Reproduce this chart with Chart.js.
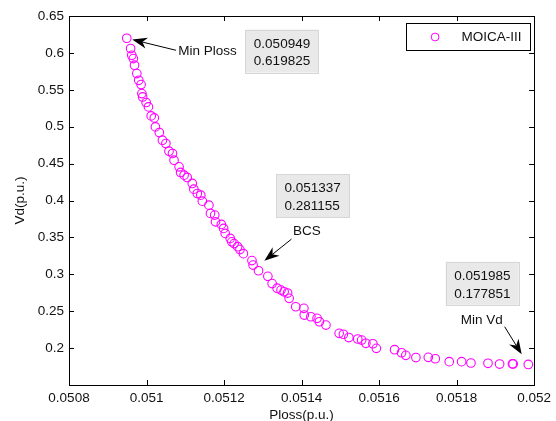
<!DOCTYPE html>
<html>
<head>
<meta charset="utf-8">
<script src="https://cdn.jsdelivr.net/npm/chart.js@4.4.0/dist/chart.umd.min.js"></script>
<style>
  html, body { margin: 0; padding: 0; background: #ffffff; }
  #wrap { width: 556px; height: 421px; position: relative; }
</style>
</head>
<body>
<div id="wrap"><canvas id="c" width="556" height="421"></canvas></div>
<script>
// Pareto front: power loss vs. voltage deviation
const seriesName = 'MOICA-III';

const plossValues = [
  0.050949, 0.050959, 0.050962, 0.050966, 0.050969, 0.050975, 0.050980, 0.050986, 0.050988, 0.050990,
  0.050999, 0.051005, 0.051012, 0.051020, 0.051023, 0.051033, 0.051041, 0.051050, 0.051058, 0.051067,
  0.051071, 0.051084, 0.051088, 0.051097, 0.051105, 0.051118, 0.051122, 0.051131, 0.051140, 0.051144,
  0.051161, 0.051165, 0.051176, 0.051178, 0.051193, 0.051199, 0.051203, 0.051216, 0.051220, 0.051226,
  0.051235, 0.051241, 0.051250, 0.051272, 0.051275, 0.051289, 0.051313, 0.051324, 0.051337, 0.051347,
  0.051355, 0.051364, 0.051368, 0.051385, 0.051406, 0.051407, 0.051424, 0.051440, 0.051446, 0.051463,
  0.051497, 0.051508, 0.051522, 0.051545, 0.051555, 0.051566, 0.051584, 0.051593, 0.051640, 0.051658,
  0.051669, 0.051695, 0.051727, 0.051745, 0.051781, 0.051813, 0.051837, 0.051881, 0.051911, 0.051944,
  0.051946, 0.051985
];

const vdValues = [
  0.619825, 0.6059, 0.5968, 0.5923, 0.5833, 0.5720, 0.5629, 0.5571, 0.5449, 0.5403,
  0.5328, 0.5268, 0.5146, 0.5119, 0.4997, 0.4921, 0.4817, 0.4772, 0.4668, 0.4637,
  0.4546, 0.4456, 0.4380, 0.4343, 0.4312, 0.4231, 0.4154, 0.4095, 0.4072, 0.3991,
  0.3937, 0.3825, 0.3802, 0.3711, 0.3676, 0.3622, 0.3554, 0.3486, 0.3440, 0.3416,
  0.3375, 0.3335, 0.3280, 0.3186, 0.3125, 0.3048, 0.2972, 0.2874, 0.281155, 0.2786,
  0.2763, 0.2746, 0.2674, 0.2560, 0.2539, 0.2448, 0.2425, 0.2403, 0.2357, 0.2312,
  0.2200, 0.2188, 0.2143, 0.2123, 0.2109, 0.2065, 0.2059, 0.1997, 0.1978, 0.1937,
  0.1902, 0.1872, 0.1875, 0.1856, 0.1816, 0.1816, 0.1798, 0.1794, 0.1784, 0.1787,
  0.1785, 0.177851
];

const xTickValues = [0.0508, 0.0510, 0.0512, 0.0514, 0.0516, 0.0518, 0.0520];
const xTickLabels = ['0.0508', '0.051', '0.0512', '0.0514', '0.0516', '0.0518', '0.052'];
const yTickValues = [0.20, 0.25, 0.30, 0.35, 0.40, 0.45, 0.50, 0.55, 0.60, 0.65];
const yTickLabels = ['0.2', '0.25', '0.3', '0.35', '0.4', '0.45', '0.5', '0.55', '0.6', '0.65'];

const xAxisTitle = 'Ploss(p.u.)';
const yAxisTitle = 'Vd(p.u.)';

// Highlighted solutions (indices into the series) with their data-tip boxes
const tipBoxes = [
  { point: 0,  left: 0.051255, top: 0.63159 },
  { point: 48, left: 0.051334, top: 0.43568 },
  { point: 81, left: 0.051772, top: 0.31694 }
];

// Labelled arrows
const callouts = [
  { text: 'Min Ploss', tx: 0.051082, ty: 0.60261, from: [0.051076, 0.60356], to: [0.050963, 0.61805] },
  { text: 'BCS',       tx: 0.051378, ty: 0.35851, from: [0.051374, 0.34768], to: [0.051304, 0.31830] },
  { text: 'Min Vd',    tx: 0.051811, ty: 0.23801, from: [0.051924, 0.22894], to: [0.051968, 0.19157] }
];

const FONT = '"Liberation Sans", Arial, Helvetica, sans-serif';
const FONT_SIZE = 13.5;
const TEXT = '#111111';
const MARKER = '#ff00ff';

function arrow(ctx, x0, y0, x1, y1) {
  const ang = Math.atan2(y1 - y0, x1 - x0);
  const len = 15, half = 5.5, notch = 4.5;
  ctx.save();
  ctx.strokeStyle = '#000';
  ctx.lineWidth = 1;
  ctx.beginPath();
  ctx.moveTo(x0, y0);
  ctx.lineTo(x1 - Math.cos(ang) * (len - notch), y1 - Math.sin(ang) * (len - notch));
  ctx.stroke();
  ctx.translate(x1, y1);
  ctx.rotate(ang);
  ctx.fillStyle = '#000';
  ctx.beginPath();
  ctx.moveTo(0, 0);
  ctx.lineTo(-len, -half);
  ctx.lineTo(-len + notch, 0);
  ctx.lineTo(-len, half);
  ctx.closePath();
  ctx.fill();
  ctx.restore();
}

const framePlugin = {
  id: 'frame',
  afterDatasetsDraw(chart) {
    const ctx = chart.ctx;
    const { left, right, top, bottom } = chart.chartArea;
    const xs = chart.scales.x, ys = chart.scales.y;
    ctx.save();
    ctx.strokeStyle = '#000';
    ctx.lineWidth = 1;
    // box
    ctx.strokeRect(Math.round(left) + 0.5, Math.round(top) + 0.5,
                   Math.round(right) - Math.round(left), Math.round(bottom) - Math.round(top));
    // inward ticks on all four sides
    const tl = 5;
    ctx.beginPath();
    xTickValues.forEach(v => {
      const px = Math.round(xs.getPixelForValue(v)) + 0.5;
      ctx.moveTo(px, bottom); ctx.lineTo(px, bottom - tl);
      ctx.moveTo(px, top); ctx.lineTo(px, top + tl);
    });
    yTickValues.forEach(v => {
      const py = Math.round(ys.getPixelForValue(v)) + 0.5;
      ctx.moveTo(left, py); ctx.lineTo(left + tl, py);
      ctx.moveTo(right, py); ctx.lineTo(right - tl, py);
    });
    ctx.stroke();

    ctx.font = FONT_SIZE + 'px ' + FONT;
    ctx.textBaseline = 'middle';
    ctx.textAlign = 'left';

    // data tips
    tipBoxes.forEach(b => {
      const bx = xs.getPixelForValue(b.left), by = ys.getPixelForValue(b.top);
      const w = 73, h = 43;
      ctx.fillStyle = '#e9e9e9';
      ctx.fillRect(bx, by, w, h);
      ctx.strokeStyle = '#d6d6d6';
      ctx.strokeRect(Math.round(bx) + 0.5, Math.round(by) + 0.5, w, h);
      ctx.fillStyle = TEXT;
      ctx.fillText(plossValues[b.point].toFixed(6), bx + 8.5, by + 14.2);
      ctx.fillText(vdValues[b.point].toFixed(6), bx + 8.5, by + 32);
    });

    // callouts
    callouts.forEach(c => {
      arrow(ctx, xs.getPixelForValue(c.from[0]), ys.getPixelForValue(c.from[1]),
                 xs.getPixelForValue(c.to[0]), ys.getPixelForValue(c.to[1]));
      ctx.fillStyle = TEXT;
      ctx.fillText(c.text, xs.getPixelForValue(c.tx), ys.getPixelForValue(c.ty));
    });

    // legend
    const lw = 124, lh = 27;
    const lx = right - 4.5 - lw, ly = top + 7;
    ctx.fillStyle = '#fff';
    ctx.fillRect(lx, ly, lw, lh);
    ctx.strokeStyle = '#000';
    ctx.lineWidth = 1;
    ctx.strokeRect(Math.round(lx) + 0.5, Math.round(ly) + 0.5, lw, lh);
    ctx.strokeStyle = MARKER;
    ctx.beginPath();
    ctx.arc(lx + 29.5, ly + 14, 3.9, 0, Math.PI * 2);
    ctx.stroke();
    ctx.fillStyle = TEXT;
    ctx.fillText(chart.data.datasets[0].label, lx + 56, ly + 14);
    ctx.restore();
  }
};

new Chart(document.getElementById('c'), {
  type: 'scatter',
  data: {
    datasets: [{
      label: seriesName,
      data: plossValues.map((x, i) => ({ x: x, y: vdValues[i] })),
      pointStyle: 'circle',
      pointRadius: 4.3,
      pointHoverRadius: 4.3,
      borderWidth: 1.1,
      borderColor: MARKER,
      backgroundColor: 'rgba(0,0,0,0)',
      showLine: false
    }]
  },
  options: {
    responsive: false,
    animation: false,
    devicePixelRatio: 1,
    layout: { padding: { left: 0, right: 18, top: 16, bottom: 0 } },
    plugins: { legend: { display: false }, tooltip: { enabled: false } },
    scales: {
      x: {
        type: 'linear',
        min: 0.0508, max: 0.0520,
        border: { display: false },
        grid: { display: false, drawTicks: false },
        afterBuildTicks: s => { s.ticks = xTickValues.map(v => ({ value: v })); },
        afterFit: s => { s.height = 36; },
        ticks: {
          padding: 5,
          maxRotation: 0,
          autoSkip: false,
          color: TEXT,
          font: { family: FONT, size: FONT_SIZE },
          callback: (v, i) => xTickLabels[i]
        },
        title: {
          display: true, text: xAxisTitle, color: TEXT,
          font: { family: FONT, size: FONT_SIZE },
          padding: { top: 0, bottom: -2 }
        }
      },
      y: {
        type: 'linear',
        min: 0.15, max: 0.65,
        border: { display: false },
        grid: { display: false, drawTicks: false },
        afterBuildTicks: s => { s.ticks = yTickValues.map(v => ({ value: v })); },
        afterFit: s => { s.width = 69; },
        ticks: {
          padding: 5,
          autoSkip: false,
          color: TEXT,
          font: { family: FONT, size: FONT_SIZE },
          callback: (v, i) => yTickLabels[i]
        },
        title: {
          display: true, text: yAxisTitle, color: TEXT,
          font: { family: FONT, size: FONT_SIZE },
          padding: { top: 12, bottom: 0 }
        }
      }
    }
  },
  plugins: [framePlugin]
});
</script>
</body>
</html>
